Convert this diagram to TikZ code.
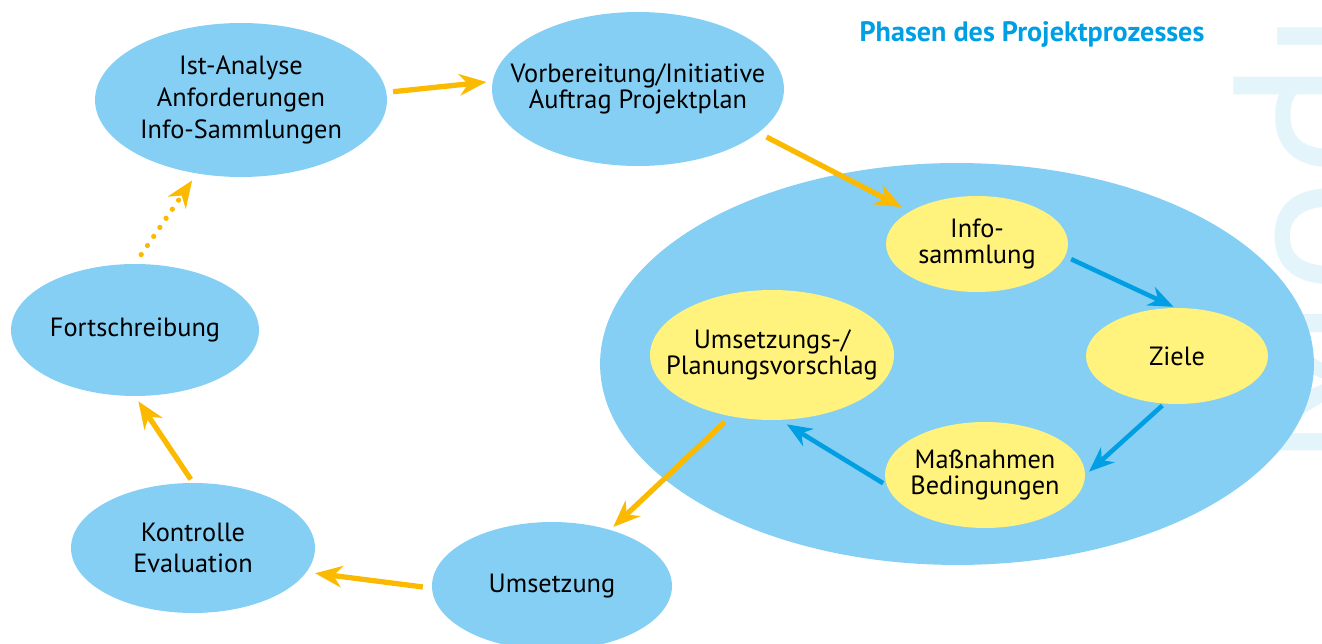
\documentclass[tikz,border=0pt]{standalone}
\usepackage{fontspec}
\setmainfont{PT Sans}
\usetikzlibrary{shapes.geometric,arrows.meta}
\definecolor{hellblau}{HTML}{84CFF3}
\definecolor{gelb}{HTML}{FFF27D}
\definecolor{pfeilorange}{HTML}{FBBA00}
\definecolor{pfeilblau}{HTML}{009FE3}
\definecolor{wasserblau}{HTML}{E3F4FB}
\begin{document}
\begin{tikzpicture}[x=0.02cm,y=-0.02cm,
    phase/.style={ellipse,fill=hellblau,inner xsep=-3cm,inner ysep=-2cm,align=center,font=\fontsize{15}{18}\selectfont},
    schritt/.style={ellipse,fill=gelb,inner xsep=-3cm,inner ysep=-2cm,align=center,font=\fontsize{15}{15.2}\selectfont},
    gpfeil/.style={draw=pfeilorange,line width=3pt,-{Stealth[length=5.4mm,width=4.3mm,inset=1.7mm]}},
    bpfeil/.style={draw=pfeilblau,line width=2.6pt,-{Stealth[length=5mm,width=4mm,inset=1.6mm]}}]
    \useasboundingbox (0,0) rectangle (1322,644);
    \node[rotate=90,anchor=base west,inner sep=0pt,text=wasserblau,font=\fontsize{125}{125}\selectfont] at (1387,470) (modul) {Modul};
    \node[phase,minimum width=142.8mm,minimum height=80.4mm] at (957,364) (zyklus) {};
    \node[phase,minimum width=58.4mm,minimum height=30.8mm] at (241,100) (analyse) {Ist-Analyse\\Anforderungen\\Info-Sammlungen};
    \node[phase,minimum width=58.4mm,minimum height=30.8mm,font=\fontsize{15}{15.2}\selectfont] at (638,89) (vorb) {Vorbereitung/Initiative\\Auftrag Projektplan};
    \node[phase,minimum width=49.6mm,minimum height=26.4mm] at (135,330) (fort) {Fortschreibung};
    \node[phase,minimum width=48.8mm,minimum height=26mm] at (193,548) (kontr) {Kontrolle\\Evaluation};
    \node[phase,minimum width=48mm,minimum height=25.6mm] at (552,586) (umsetzung) {Umsetzung};
    \node[schritt,minimum width=36.4mm,minimum height=19.2mm] at (977,244) (info) {Info-\\sammlung};
    \node[schritt,minimum width=36.4mm,minimum height=19.2mm] at (1177,356) (ziele) {Ziele};
    \node[schritt,minimum width=40mm,minimum height=21.2mm] at (985,475) (mass) {Maßnahmen\\Bedingungen};
    \node[schritt,minimum width=48.8mm,minimum height=26mm] at (772,355) (vorschlag) {Umsetzungs-/\\Planungsvorschlag};
    \node[anchor=base,text=pfeilblau,font=\bfseries\fontsize{16}{18}\selectfont] at (1032,41.7) (titel) {Phasen des Projektprozesses};
    \draw[gpfeil,shorten <=1.3mm,shorten >=1.2mm] (analyse.3) -- (vorb.177);
    \draw[gpfeil,shorten <=1.8mm,shorten >=1.8mm] (vorb.-20) -- (info.154);
    \draw[gpfeil,shorten <=1.6mm,shorten >=0.8mm] (vorschlag.-124) -- (umsetzung.44);
    \draw[gpfeil,shorten <=1.8mm,shorten >=1.7mm] (umsetzung.181) -- (kontr.-12);
    \draw[gpfeil,shorten <=0.8mm,shorten >=1.2mm] (kontr.north) -- (fort.south);
    \draw[gpfeil,line cap=round,dash pattern=on 0pt off 2.2mm,shorten <=2.2mm,shorten >=1.6mm] (fort.north) -- (analyse.-121);
    \draw[bpfeil,shorten <=1.3mm,shorten >=0.4mm] (info.-8) -- (ziele.92);
    \draw[bpfeil,shorten <=0.5mm,shorten >=1mm] (ziele.-105) -- (mass.east);
    \draw[bpfeil,shorten <=0.8mm,shorten >=1.6mm] (mass.186) -- (vorschlag.-83);
\end{tikzpicture}
\end{document}
